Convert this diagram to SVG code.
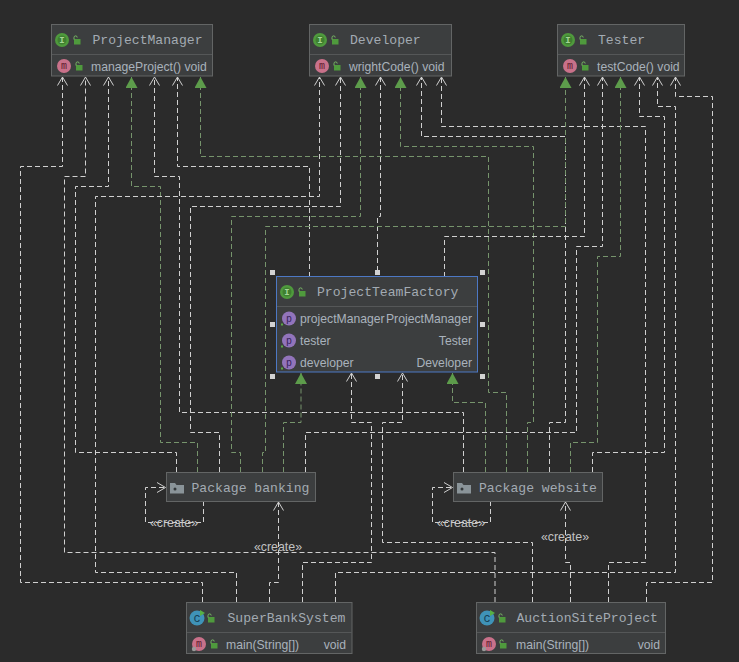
<svg xmlns="http://www.w3.org/2000/svg" width="739" height="662" viewBox="0 0 739 662">
<style>
.n{fill:#3c3e3f;stroke:#636565;stroke-width:1}
.d{stroke:#555758;stroke-width:1;fill:none}
.t{font:13.1px "Liberation Mono",monospace;fill:#a3abb3}
.m{font:12.2px "Liberation Sans",sans-serif;fill:#a9b2bc}
.e{text-anchor:end}
.w{fill:none;stroke:#d0d0d0;stroke-width:1;stroke-dasharray:5 3}
.g{fill:none;stroke:#76946c;stroke-width:1;stroke-dasharray:5 3}
.wa{marker-end:url(#open)}
.ga{marker-end:url(#tri)}
.l{font:12.4px "Liberation Sans",sans-serif;fill:#c2c2c2;text-anchor:middle}
.ic{font:10px "Liberation Mono",monospace;text-anchor:middle}
.hd{fill:#d2d2d2}
</style>
<defs>
<marker id="open" markerUnits="userSpaceOnUse" markerWidth="14" markerHeight="14" refX="11" refY="7" orient="auto"><path d="M2.500 2L11 7L2.500 12" fill="none" stroke="#d0d0d0" stroke-width="1"/></marker>
<marker id="tri" markerUnits="userSpaceOnUse" markerWidth="13" markerHeight="13" refX="11" refY="6" orient="auto"><path d="M0 0L11 6L0 12Z" fill="#5d9c4b"/></marker>
<g id="lock"><rect x="1" y="3" width="6.500" height="5.500" fill="#4f9a3d"/><path d="M1 3.500V1.500A1.600 1.600 0 0 1 4.200 1.500" fill="none" stroke="#78b866" stroke-width="1"/></g>
<g id="ii"><circle r="7" fill="#4f9a3d"/><circle r="4.500" fill="#3f7f30"/><text class="ic" y="3" fill="#a5d596" style="font-size:9px;font-weight:bold">I</text></g>
<g id="mm"><circle r="7" fill="#c9718a"/><text class="ic" y="3" fill="#5e1a2e">m</text></g>
<g id="mg"><circle r="7" fill="#c9718a"/><text class="ic" y="3" fill="#5e1a2e">m</text><circle cx="-5" cy="5" r="2.200" fill="#9a9a9a"/></g>
<g id="cc"><circle r="7.500" fill="#3f93b8"/><text class="ic" y="3.500" fill="#153f55" style="font-size:12px">c</text><path d="M3-8L8-5L3-2Z" fill="#57b044"/></g>
<g id="pp"><circle r="7" fill="#9274bb"/><text class="ic" y="3" fill="#35215a">p</text><rect x="-8" y="5" width="2" height="2" fill="#5aa845"/></g>
<g id="pk"><path d="M0 0H5L6.500 2H14V10.500H0Z" fill="#8a9499"/><circle cx="5" cy="6" r="1.500" fill="#33383a"/></g>
</defs>
<rect width="739" height="662" fill="#2b2b2b"/>
<g id="connectors">
<path class="w wa" d="M202.500 602V582.500H20.500V166.500H62.500V77"/>
<path class="w wa" d="M495 602V552.500H64.500V176.500H85.500V77"/>
<path class="w wa" d="M176.500 472V452.500H75.500V186.500H108.500V77"/>
<path class="g ga" d="M197.500 472V442.500H160.500V186.500H131.500V77"/>
<path class="w wa" d="M463.500 472V412.500H179.500V176.500H154.500V77"/>
<path class="w wa" d="M309.500 277V166.500H177.500V77"/>
<path class="g ga" d="M506.500 472V392.500H488.500V156.500H200.500V77"/>
<path class="w wa" d="M236.500 602V572.500H95.500V196.500H319.500V77"/>
<path class="w wa" d="M219.500 472V432.500H190.500V206.500H340.500V77"/>
<path class="g ga" d="M240.500 472V452.500H231.500V216.500H360.500V77"/>
<path class="w wa" d="M377.500 271V216.500H380.500V77"/>
<path class="g ga" d="M527.500 472V422.500H533.500V146.500H400.500V77"/>
<path class="w wa" d="M549.500 472V422.500H565.500V136.500H421.500V77"/>
<path class="w wa" d="M608.500 602V562.500H645.500V126.500H441.500V77"/>
<path class="g ga" d="M262.500 472V452.500H265.500V226.500H565.500V77"/>
<path class="w wa" d="M444.500 277V236.500H584.500V77"/>
<path class="w wa" d="M305.500 472V432.500H576.500V246.500H602.500V77"/>
<path class="g ga" d="M570.500 472V442.500H597.500V256.500H620.500V77"/>
<path class="w wa" d="M592.500 472V452.500H664.500V116.500H639.500V77"/>
<path class="w wa" d="M335.500 602V572.500H675.500V106.500H657.500V77"/>
<path class="w wa" d="M646.500 602V582.500H712.500V96.500H675.500V77"/>
<path class="g ga" d="M283.500 472V422.500H301V373"/>
<path class="w wa" d="M302.500 602V562.500H371.500V422.500H351.500V373"/>
<path class="w wa" d="M532.500 602V542.500H382.500V422.500H402.500V373"/>
<path class="g ga" d="M485.500 472V402.500H452.500V373"/>
<path class="w wa" d="M203.500 501V522.500H145.500V487.500H165.500"/>
<path class="w wa" d="M490.500 501V522.500H432.500V487.500H452.500"/>
<path class="w wa" d="M269.500 602V582.500H278.500V502"/>
<path class="w wa" d="M570.500 602V562.500H565.500V502"/>
<text class="l" x="174" y="527">«create»</text>
<text class="l" x="461" y="527">«create»</text>
<text class="l" x="278" y="551">«create»</text>
<text class="l" x="565" y="541">«create»</text>
</g>
<g id="ProjectManager">
<rect class="n" x="51.500" y="24.500" width="161" height="51.500"/>
<path class="d" d="M52 54.500H212"/>
<use href="#ii" x="62" y="40"/><use href="#lock" x="73" y="36"/>
<text class="t" x="92.500" y="44">ProjectManager</text>
<use href="#mm" x="64" y="66"/><use href="#lock" x="75" y="62"/>
<text class="m" x="91" y="71">manageProject() void</text>
</g>
<g id="Developer">
<rect class="n" x="309.500" y="24.500" width="142" height="51.500"/>
<path class="d" d="M310 54.500H451"/>
<use href="#ii" x="320" y="40"/><use href="#lock" x="331" y="36"/>
<text class="t" x="350" y="44">Developer</text>
<use href="#mm" x="322" y="66"/><use href="#lock" x="333" y="62"/>
<text class="m" x="349" y="71">wrightCode() void</text>
</g>
<g id="Tester">
<rect class="n" x="557.500" y="24.500" width="127" height="51.500"/>
<path class="d" d="M558 54.500H684"/>
<use href="#ii" x="568" y="40"/><use href="#lock" x="579" y="36"/>
<text class="t" x="598" y="44">Tester</text>
<use href="#mm" x="570" y="66"/><use href="#lock" x="581" y="62"/>
<text class="m" x="597" y="71">testCode() void</text>
</g>
<g id="ProjectTeamFactory">
<rect x="276.500" y="276.500" width="201" height="95.500" fill="#3c3e3f" stroke="#4d78c4" stroke-width="1"/>
<path class="d" d="M277 306.500H477"/>
<use href="#ii" x="287" y="292"/><use href="#lock" x="298" y="288"/>
<text class="t" x="317" y="296">ProjectTeamFactory</text>
<use href="#pp" x="289" y="318.500"/><text class="m" x="300" y="323">projectManager</text><text class="m e" x="472" y="323">ProjectManager</text>
<use href="#pp" x="289" y="340.500"/><text class="m" x="300" y="345">tester</text><text class="m e" x="472" y="345">Tester</text>
<use href="#pp" x="289" y="362.500"/><text class="m" x="300" y="367">developer</text><text class="m e" x="472" y="367">Developer</text>
<rect class="hd" x="270" y="270" width="5" height="5"/><rect class="hd" x="375" y="270" width="5" height="5"/><rect class="hd" x="480" y="270" width="5" height="5"/>
<rect class="hd" x="270" y="322" width="5" height="5"/><rect class="hd" x="480" y="322" width="5" height="5"/>
<rect class="hd" x="270" y="374" width="5" height="5"/><rect class="hd" x="375" y="374" width="5" height="5"/><rect class="hd" x="480" y="374" width="5" height="5"/>
</g>
<g id="PackageBanking">
<rect class="n" x="166.500" y="472.500" width="149" height="29"/>
<use href="#pk" x="170" y="483"/>
<text class="t" x="191.500" y="492">Package banking</text>
</g>
<g id="PackageWebsite">
<rect class="n" x="453.500" y="472.500" width="149" height="29"/>
<use href="#pk" x="457" y="483"/>
<text class="t" x="479" y="492">Package website</text>
</g>
<g id="SuperBankSystem">
<rect class="n" x="186.500" y="602.500" width="165.500" height="51"/>
<path class="d" d="M187 632.500H352"/>
<use href="#cc" x="197" y="618"/><use href="#lock" x="207" y="614"/>
<text class="t" x="227.500" y="622">SuperBankSystem</text>
<use href="#mg" x="199" y="644"/><use href="#lock" x="210" y="640"/>
<text class="m" x="226" y="649">main(String[])</text><text class="m e" x="346" y="649">void</text>
</g>
<g id="AuctionSiteProject">
<rect class="n" x="476.500" y="602.500" width="189" height="51"/>
<path class="d" d="M477 632.500H665"/>
<use href="#cc" x="487" y="618"/><use href="#lock" x="498" y="614"/>
<text class="t" x="516.500" y="622">AuctionSiteProject</text>
<use href="#mg" x="489" y="644"/><use href="#lock" x="499" y="640"/>
<text class="m" x="516" y="649">main(String[])</text><text class="m e" x="660" y="649">void</text>
</g>
</svg>
